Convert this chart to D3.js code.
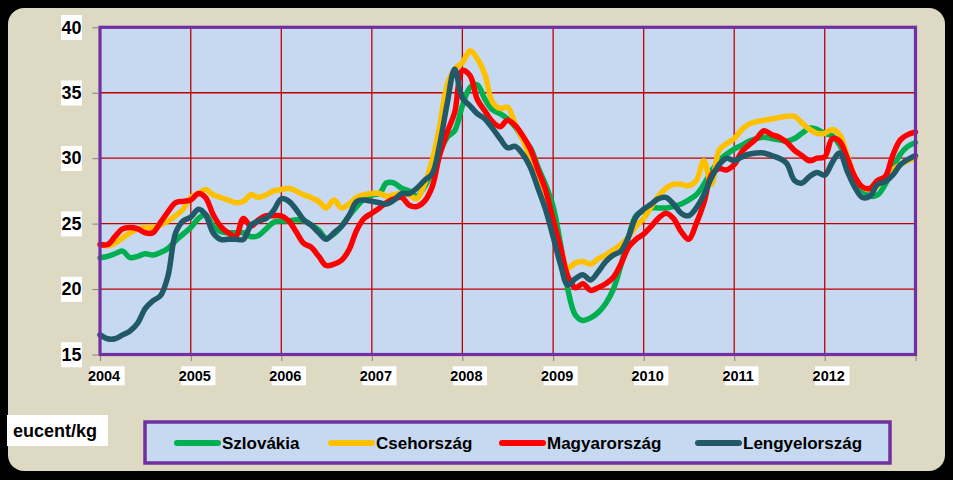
<!DOCTYPE html>
<html><head><meta charset="utf-8">
<script src="https://cdn.jsdelivr.net/npm/d3@7"></script>
<style>body{margin:0;background:#000;}svg{display:block;}</style>
</head><body>
<svg id="chart" width="953" height="480"></svg>
<script>
// ---- data ----
const yearLabels = ["2004","2005","2006","2007","2008","2009","2010","2011","2012",""];
const yTicks = [15,20,25,30,35,40];
const seriesNames = ["Szlovákia","Csehország","Magyarország","Lengyelország"];
const seriesColors = ["#00B050","#FFC000","#FF0000","#215968"];
// monthly values, Jan 2004 .. Jan 2013 (eucent/kg)
const szlovakia = [22.4,22.5,22.7,22.9,22.4,22.5,22.7,22.6,22.8,23.1,23.7,24.2,
 24.7,25.4,25.7,24.8,24.4,24.3,24.3,24.3,24.0,24.1,24.6,25.1,
 25.2,25.2,25.3,25.2,24.9,24.5,23.9,24.2,24.8,25.6,26.3,26.9,
 27.2,27.3,28.1,28.1,27.7,27.5,27.1,27.8,29.0,30.4,31.6,32.1,
 34.0,35.4,35.6,34.5,33.7,33.4,33.0,32.4,31.5,30.8,29.3,28.0,
 26.3,23.3,20.0,18.0,17.6,17.8,18.2,18.9,20.0,21.8,24.0,25.6,
 26.0,26.2,26.2,26.2,26.3,26.5,26.8,27.2,28.0,29.0,29.8,30.3,
 30.7,31.0,31.3,31.5,31.6,31.5,31.4,31.3,31.5,31.9,32.3,32.2,
 31.9,31.7,31.0,29.8,28.4,27.6,27.1,27.2,28.0,29.2,30.3,30.9,
 31.2];
const csehorszag = [23.4,23.3,23.5,23.9,24.3,24.6,24.7,24.7,24.9,25.2,25.6,26.1,
 27.0,27.3,27.6,27.2,27.0,26.8,26.6,26.7,27.2,27.0,27.2,27.5,
 27.6,27.7,27.5,27.2,27.0,26.7,26.2,26.8,26.2,26.5,27.0,27.2,
 27.3,27.3,27.1,27.2,27.3,27.2,26.9,28.0,29.8,32.4,35.6,36.8,
 37.3,38.2,37.6,36.4,34.3,33.8,33.9,32.6,31.4,30.0,28.7,27.1,
 25.1,23.0,21.6,22.0,22.1,21.9,22.3,22.6,23.0,23.4,24.0,24.8,
 25.4,26.3,27.1,27.7,28.0,28.0,27.9,28.3,29.8,28.0,30.6,31.1,
 31.5,32.2,32.6,32.8,32.9,33.0,33.1,33.2,33.2,32.7,32.2,31.9,
 31.9,32.2,31.8,30.2,28.6,27.8,27.6,27.9,28.5,29.1,29.5,29.8,
 30.0];
const magyarorszag = [23.4,23.4,24.0,24.6,24.7,24.6,24.3,24.3,25.1,25.9,26.6,26.7,
 26.8,27.3,27.0,25.7,24.8,24.3,24.0,25.4,24.8,25.3,25.6,25.6,
 25.6,25.2,24.4,23.5,23.2,22.5,21.8,21.9,22.2,23.0,24.5,25.4,
 25.8,26.2,26.6,26.9,27.0,26.4,26.3,26.7,27.8,30.2,32.0,33.5,
 36.7,36.3,34.5,33.6,32.8,32.4,32.9,32.5,31.7,30.7,29.1,27.6,
 25.3,23.1,21.0,20.1,20.4,19.9,20.1,20.4,20.9,21.9,23.2,23.8,
 24.2,24.8,25.4,25.8,25.4,24.4,23.8,25.0,26.6,28.7,29.2,29.1,
 29.5,30.5,31.0,31.5,32.1,31.8,31.6,31.2,30.6,30.2,29.8,30.0,
 30.1,31.5,31.3,30.0,28.6,27.8,27.7,28.3,28.6,30.2,31.4,31.8,
 32.0];
const lengyelorszag = [16.5,16.2,16.2,16.5,16.8,17.4,18.5,19.1,19.5,21.0,24.3,25.2,
 25.5,26.1,25.7,24.3,23.8,23.8,23.8,23.8,24.9,25.2,25.4,26.0,
 26.9,26.7,26.1,25.3,24.9,24.3,23.8,24.3,24.8,25.6,26.7,26.8,
 26.7,26.6,26.5,26.8,27.3,27.3,27.7,28.3,28.8,31.0,34.2,36.8,
 34.6,34.0,33.4,33.0,32.3,31.5,30.8,30.9,30.3,29.3,27.7,26.1,
 24.0,21.8,20.3,20.8,21.1,20.7,21.3,22.1,22.6,22.9,24.0,25.5,
 26.1,26.5,26.9,27.0,26.5,25.8,25.6,26.2,27.2,28.5,29.5,30.0,
 29.8,30.1,30.3,30.4,30.4,30.2,30.0,29.6,28.3,28.1,28.6,28.9,
 28.7,29.7,30.4,29.0,27.8,27.0,27.1,28.0,28.2,28.7,29.5,29.9,
 30.2];
const seriesValues = [szlovakia, csehorszag, magyarorszag, lengyelorszag];
const unitLabel = "eucent/kg";

// ---- chart ----
const months = d3.timeMonth.range(new Date(2004,0,1), new Date(2013,0,2));
const yearDates = d3.timeYear.range(new Date(2004,0,1), new Date(2013,0,2));

const svg = d3.select("#chart");
svg.append("rect").attr("width",953).attr("height",480).attr("fill","#000");
svg.append("rect").attr("x",8).attr("y",8).attr("width",937).attr("height",463)
  .attr("rx",16).attr("fill","#DDD9C3");

const X0 = 100, X1 = 915.5, Y0 = 27.3, Y1 = 354.5;
const x = d3.scaleTime().domain([new Date(2004,0,1), new Date(2013,0,1)]).range([X0, X1]);
const y = d3.scaleLinear().domain([15,40]).range([Y1, Y0]);

svg.append("rect").attr("x",X0).attr("y",Y0).attr("width",X1-X0).attr("height",Y1-Y0)
  .attr("fill","#C6D9F1");

// grid
const grid = svg.append("g");
grid.selectAll(".hg").data(yTicks.filter(v => v > 15 && v < 40)).join("line")
  .attr("x1",X0).attr("x2",X1).attr("y1",d=>y(d)).attr("y2",d=>y(d))
  .attr("stroke","#C00000").attr("stroke-width",1.3);
grid.selectAll(".vg").data(yearDates.slice(1, -1)).join("line")
  .attr("x1",d=>x(d)).attr("x2",d=>x(d)).attr("y1",Y0).attr("y2",Y1)
  .attr("stroke","#C00000").attr("stroke-width",1.3);

// lines
const line = d3.line().x((d,i)=>x(months[i])).y(d=>y(d)).curve(d3.curveCatmullRom.alpha(0.5));
seriesValues.forEach((vals, k) => {
  svg.append("path").datum(vals).attr("d", line)
    .attr("fill","none").attr("stroke", seriesColors[k]).attr("stroke-width",5.5)
    .attr("stroke-linejoin","round").attr("stroke-linecap","round");
});

// border
svg.append("rect").attr("x",X0).attr("y",Y0).attr("width",X1-X0).attr("height",Y1-Y0)
  .attr("fill","none").attr("stroke","#7030A0").attr("stroke-width",3.2);

// y axis
const yAxisG = svg.append("g").attr("transform",`translate(${X0-1.5},0)`)
  .call(d3.axisLeft(y).tickValues(yTicks).tickSize(6).tickPadding(11).tickFormat(d3.format("d")));
yAxisG.select(".domain").remove();
yAxisG.selectAll(".tick line").attr("stroke","#808080");
yAxisG.selectAll(".tick text").attr("fill","#000")
  .style("font-family","'Liberation Sans', Arial, sans-serif").style("font-weight","bold").style("font-size","18px");
yAxisG.selectAll(".tick").each(function(){
  const t = d3.select(this).select("text");
  const b = t.node().getBBox();
  d3.select(this).insert("rect","text").attr("x",b.x-0.5).attr("y",b.y-2.5)
    .attr("width",b.width+1).attr("height",b.height+5).attr("fill","#fff");
});

// x axis
const xAxisG = svg.append("g").attr("transform",`translate(0,${Y1+1.5})`)
  .call(d3.axisBottom(x).tickValues(yearDates).tickSize(5).tickPadding(9.5)
    .tickFormat((d,i)=>yearLabels[i]));
xAxisG.select(".domain").remove();
xAxisG.selectAll(".tick line").attr("stroke","#808080");
xAxisG.selectAll(".tick text").attr("fill","#000").attr("dx",3.5)
  .style("font-family","'Liberation Sans', Arial, sans-serif").style("font-weight","bold").style("font-size","14.5px");
xAxisG.selectAll(".tick").each(function(){
  const t = d3.select(this).select("text");
  if (!t.text()) return;
  const b = t.node().getBBox();
  d3.select(this).insert("rect","text").attr("x",b.x+3.5-1).attr("y",b.y-1.5)
    .attr("width",b.width+2).attr("height",b.height+3).attr("fill","#fff");
});

// unit label
svg.append("rect").attr("x",7).attr("y",415).attr("width",101).attr("height",31).attr("fill","#fff");
svg.append("text").attr("x",13).attr("y",431).attr("dy","0.35em").text(unitLabel)
  .style("font-family","'Liberation Sans', Arial, sans-serif").style("font-weight","bold").style("font-size","18px");

// legend
svg.append("rect").attr("x",145).attr("y",422).attr("width",745).attr("height",41)
  .attr("fill","#C6D9F1").attr("stroke","#7030A0").attr("stroke-width",3.5);
const legendX = [176, 330, 501, 697];
seriesNames.forEach((name,k) => {
  const g = svg.append("g").attr("transform",`translate(${legendX[k]},443)`);
  g.append("line").attr("x1",1).attr("x2",42).attr("stroke",seriesColors[k])
    .attr("stroke-width",6).attr("stroke-linecap","round");
  g.append("text").attr("x",46).attr("dy","0.35em").text(name)
    .style("font-family","'Liberation Sans', Arial, sans-serif").style("font-weight","bold").style("font-size","17px");
});
</script>
</body></html>
